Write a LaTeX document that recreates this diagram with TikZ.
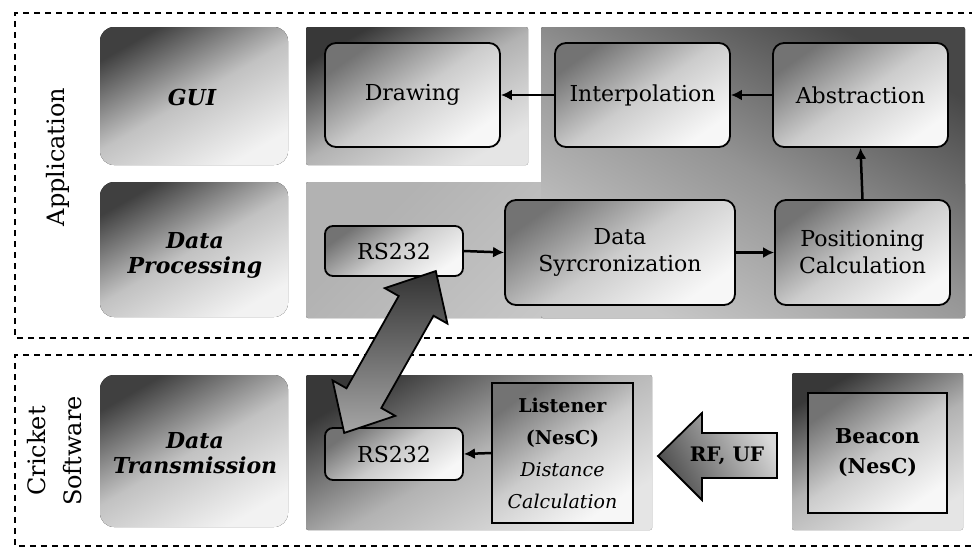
\documentclass[tikz,border=0pt]{standalone}
\usepackage{fontspec}
\setmainfont{DejaVu Serif}
\usetikzlibrary{arrows.meta}
\tikzset{
  panel/.style={rounded corners=14pt, top color=black!75, bottom color=black!5, middle color=black!24, shading angle=30},
  panelsq/.style={rounded corners=2pt, top color=black!78, bottom color=black!10, middle color=black!30, shading angle=30},
  blk/.style={draw, line width=1.8pt, rounded corners=11pt, top color=black!55, bottom color=black!3,
              middle color=black!20, shading angle=35, align=center, font=\fontsize{22}{27}\selectfont},
  sqblk/.style={blk, rounded corners=0pt},
  flow/.style={-{Latex[length=11pt,width=11pt]}, line width=2.5pt},
  group/.style={dashed, dash pattern=on 6pt off 5pt, line width=1.3pt},
  side/.style={rotate=90, font=\fontsize{24}{28}\selectfont},
  tag/.style={align=center, font=\fontsize{22}{25}\selectfont\bfseries\itshape}
}
\begin{document}
\begin{tikzpicture}[x=1pt, y=-1pt]
\useasboundingbox (0,0) rectangle (972,555);

% dashed group frames
\draw[group] (975,13) -- (15,13) -- (15,338) -- (975,338);
\draw[group] (975,355) -- (15,355) -- (15,546) -- (975,546);
\node[side] (appl) at (58,157) {Application};
\node[side] (crick) at (37,451) {Cricket};
\node[side] (softw) at (73,451) {Software};

% shaded layer panels
\fill[panel] (100,27) rectangle (288,165);
\fill[panel] (100,182) rectangle (288,317);
\fill[panel] (100,375) rectangle (288,527);
\fill[panelsq] (306,27) rectangle (528,165);
\fill[rounded corners=2pt, top color=black!30, bottom color=black!12, shading angle=45] (306,182) rectangle (965,318);
\fill[rounded corners=2pt, top color=black!72, bottom color=black!22, middle color=black!42, shading angle=-30] (541,27) rectangle (965,318);
\fill[panelsq] (306,375) rectangle (652,530);
\fill[panelsq] (792,373) rectangle (963,530);

% layer names
\node[tag] (gui) at (192,97) {GUI};
\node[tag] (dproc) at (195,255) {Data\\Processing};
\node[tag] (dtrans) at (195,453) {Data\\Transmission};

% application blocks
\node[blk, minimum width=175pt, minimum height=104pt] (draw) at (412.5,95) {Drawing};
\node[blk, minimum width=175pt, minimum height=104pt] (interp) at (642.5,95) {Interpolation};
\node[blk, minimum width=175pt, minimum height=104pt] (abstr) at (860.5,95) {Abstraction};
\node[blk, rounded corners=8pt, minimum width=138pt, minimum height=50pt] (rsT) at (394,251) {RS232};
\node[blk, minimum width=230pt, minimum height=105pt] (sync) at (620,252.5) {Data\\Syrcronization};
\node[blk, minimum width=175pt, minimum height=105pt] (pos) at (862.5,252.5) {Positioning\\Calculation};

% cricket blocks
\node[blk, rounded corners=8pt, minimum width=138pt, minimum height=52pt] (rsB) at (394,454) {RS232};
\node[sqblk, minimum width=141pt, minimum height=140pt, inner sep=1pt,
      font=\fontsize{19}{32}\selectfont] (listener) at (562.5,453)
      {\textbf{Listener}\\\textbf{(NesC)}\\\textit{Distance}\\\textit{Calculation}};
\node[sqblk, minimum width=139pt, minimum height=120pt,
      font=\fontsize{20.5}{30}\selectfont\bfseries] (beacon) at (877.5,453) {Beacon\\(NesC)};

% data flow
\draw[flow] (interp.west) -- (draw.east);
\draw[flow] (abstr.west) -- (interp.east);
\draw[flow] (pos.north) -- (abstr.south);
\draw[flow] (rsT.east) -- (sync.west);
\draw[flow] (sync.east) -- (pos.west);
\draw[flow] (listener.west) -- (rsB.east);

% radio link from beacon to listener
\filldraw[line width=1.8pt, top color=black!15, bottom color=black!70, shading angle=-60]
  (658,456) -- (702,413) -- (702,433) -- (777,433) -- (777,478) -- (702,478) -- (702,500) -- cycle;
\node[font=\fontsize{20}{24}\selectfont\bfseries] (rfuf) at (727,456) {RF, UF};

% serial link between the two RS232 ports
\begin{scope}[shift={(390,352)}, rotate=60.5]
  \filldraw[line width=1.8pt, top color=black!80, bottom color=black!35, shading angle=0]
    (-93pt,0pt) -- (-53pt,36pt) -- (-53pt,20pt) -- (53pt,20pt) -- (53pt,36pt) -- (93pt,0pt)
    -- (53pt,-36pt) -- (53pt,-20pt) -- (-53pt,-20pt) -- (-53pt,-36pt) -- cycle;
\end{scope}
\end{tikzpicture}
\end{document}
